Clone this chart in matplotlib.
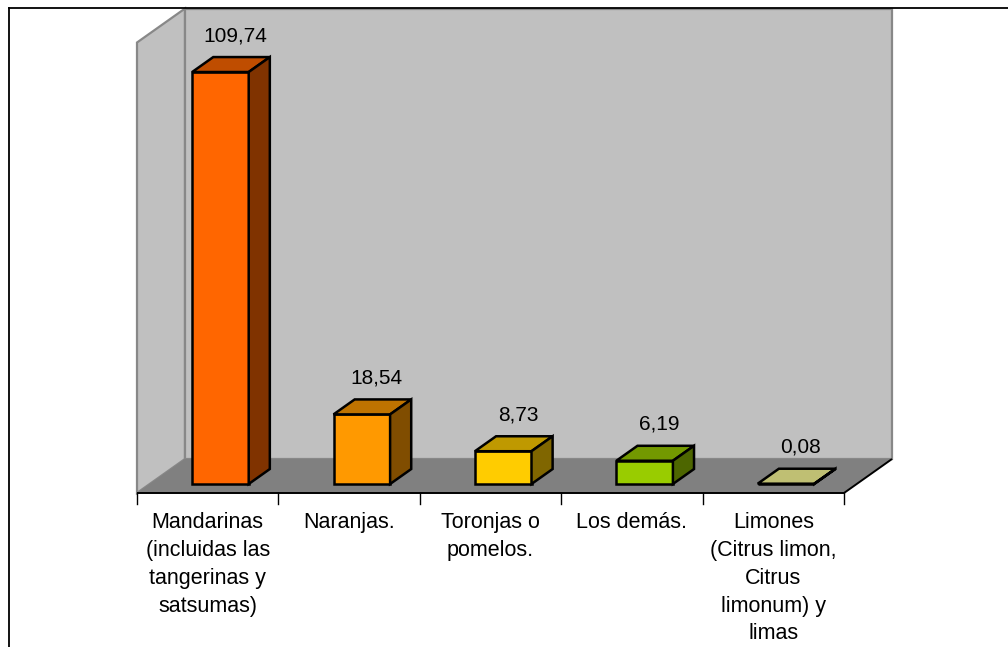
import matplotlib
matplotlib.use('Agg')
import matplotlib.pyplot as plt
from matplotlib.patches import Polygon
from matplotlib.colors import to_rgb
from matplotlib.lines import Line2D

plt.rcParams['font.family'] = ['Liberation Sans', 'DejaVu Sans']

# data
categories = ['Mandarinas\n(incluidas las\ntangerinas y\nsatsumas)',
              'Naranjas.',
              'Toronjas o\npomelos.',
              'Los demás.',
              'Limones\n(Citrus limon,\nCitrus\nlimonum) y\nlimas']
values = [109.74, 18.54, 8.73, 6.19, 0.08]
colors = ['#FF6600', '#FF9900', '#FFCC00', '#99CC00', '#FFFF99']
y_max = 120

W, H = 1008, 647
fig = plt.figure(figsize=(W / 100, H / 100), dpi=100)
ax = fig.add_axes([0, 0, 1, 1])
ax.axis('off')

# pixel layout of the plot area
x_left, cat_px = 137, 141.4
y_floor, unit_px = 493, 3.754
ax.set_xlim(-x_left / cat_px, (W - x_left) / cat_px)
ax.set_ylim((y_floor - H) / unit_px, y_floor / unit_px)

n = len(values)
# depth of the walls in data units
dX, dY = 48 / cat_px, 34 / unit_px


def shade(c, k):
    r, g, b = to_rgb(c)
    return (r * k, g * k, b * k)


wall_c, wall_edge, floor_c = '#C0C0C0', '#888888', '#808080'

# side wall
ax.add_patch(Polygon([(0, 0), (0, y_max), (dX, y_max + dY), (dX, dY)],
                     closed=True, fc=wall_c, ec=wall_edge, lw=1.6))
# back wall
ax.add_patch(Polygon([(dX, dY), (n + dX, dY), (n + dX, y_max + dY), (dX, y_max + dY)],
                     closed=True, fc=wall_c, ec=wall_edge, lw=1.6))
# floor
ax.add_patch(Polygon([(0, 0), (n, 0), (n + dX, dY), (dX, dY)],
                     closed=True, fc=floor_c, ec='none'))
ax.plot([0, n, n + dX], [0, 0, dY], color='black', lw=1.4, solid_capstyle='butt')

# ticks
tick_len = 11 / unit_px
for i in range(n + 1):
    ax.plot([i, i], [0, -tick_len], color='black', lw=1.0)

# bars
f0, bd = 0.265, 0.44
bw = 0.4
for i, (v, c) in enumerate(zip(values, colors)):
    x0 = i + 0.5 - bw / 2 + f0 * dX
    x1 = x0 + bw
    y0 = f0 * dY
    bx, by = bd * dX, bd * dY
    kw = dict(closed=True, ec='black', lw=1.8, joinstyle='miter')
    ax.add_patch(Polygon([(x0, y0), (x1, y0), (x1, y0 + v), (x0, y0 + v)], fc=c, **kw))
    ax.add_patch(Polygon([(x0, y0 + v), (x1, y0 + v), (x1 + bx, y0 + v + by),
                          (x0 + bx, y0 + v + by)], fc=shade(c, 0.75), **kw))
    ax.add_patch(Polygon([(x1, y0), (x1 + bx, y0 + by), (x1 + bx, y0 + v + by),
                          (x1, y0 + v)], fc=shade(c, 0.5), **kw))
    label = f'{v:.2f}'.replace('.', ',')
    ax.annotate(label, xy=((x0 + x1 + bx) / 2, y0 + v + by),
                xytext=(3.0, 15.5), textcoords='offset points',
                ha='center', va='center', fontsize=15, color='black')

# category labels
for i, cat in enumerate(categories):
    ax.annotate(cat, xy=(i + 0.5, 0), xytext=(0, -14), textcoords='offset points',
                ha='center', va='top', fontsize=15.5, linespacing=1.42,
                multialignment='center')

# chart area border (cropped at right and bottom)
fig.add_artist(Line2D([8.5 / W, 1], [1 - 7.5 / H, 1 - 7.5 / H],
                      transform=fig.transFigure, color='black', lw=1.3))
fig.add_artist(Line2D([8.5 / W, 8.5 / W], [0, 1 - 7.5 / H],
                      transform=fig.transFigure, color='black', lw=1.3))

fig.savefig('out.png', dpi=100)
